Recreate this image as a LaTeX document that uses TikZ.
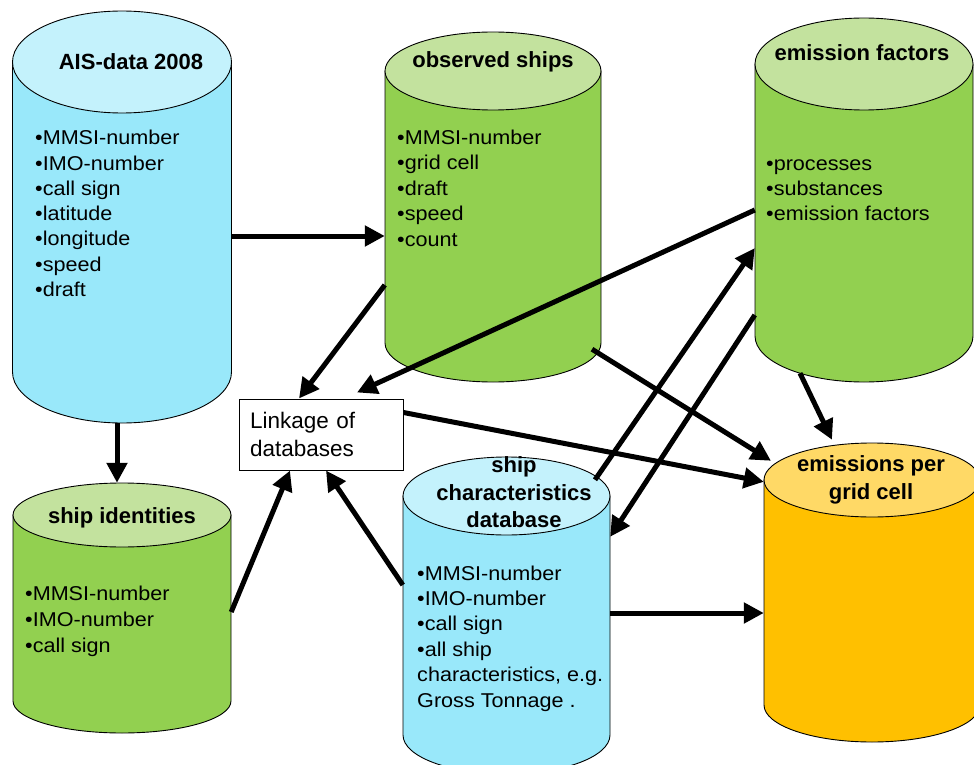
\documentclass[tikz,border=0pt]{standalone}
\usepackage{fontspec}
\setmainfont{Liberation Sans}
\newfontfamily\itemfont[FakeStretch=1.08]{Liberation Sans}
\usetikzlibrary{arrows.meta,calc}
\definecolor{AisBody}{HTML}{99E8FA}
\definecolor{AisLid}{HTML}{C4F2FC}
\definecolor{ShipGreen}{HTML}{92D050}
\definecolor{ShipPaleGreen}{HTML}{C3E29E}
\definecolor{EmisOrange}{HTML}{FFC000}
\definecolor{EmisPaleOrange}{HTML}{FFD966}
\tikzset{
  feed/.style={-{Triangle[length=20pt,width=20pt]}, line width=5pt},
  dbline/.style={draw=black, line width=0.9pt},
  dbtitle/.style={font=\fontsize{22}{27.5}\selectfont\bfseries, align=center, inner sep=0pt},
  dbitem/.style={font=\itemfont\fontsize{20}{25}\selectfont, anchor=base west, inner sep=0pt},
  linkbox/.style={draw, fill=white, line width=1pt, minimum width=164pt, minimum height=71pt,
                  text width=142pt, inner xsep=11pt, align=left, font=\fontsize{22.5}{28}\selectfont},
}
% #1 name, #2 centre x, #3 lid y, #4 bottom y, #5 x radius, #6 y radius, #7 body, #8 lid
\newcommand{\dbcyl}[8]{%
  \draw[dbline, fill=#7] ({#2-#5},#3) -- ({#2-#5},#4)
    arc[start angle=180, end angle=0, x radius=#5, y radius=#6] -- ({#2+#5},#3) -- cycle;
  \draw[dbline, fill=#8] (#2,#3) ellipse [x radius=#5, y radius=#6];
  \node[inner sep=0pt, minimum width={2*#5pt}, minimum height={(#4-#3)*1pt}] (#1) at (#2,{(#3+#4)/2}) {};
}

\begin{document}
\begin{tikzpicture}[x=1pt,y=-1pt]
  \useasboundingbox (0,0) rectangle (974,765);
  % databases
  \dbcyl{ais}{122}{62}{372}{109.5}{51}{AisBody}{AisLid}
  \dbcyl{obs}{493}{71}{343}{108}{39}{ShipGreen}{ShipPaleGreen}
  \dbcyl{ef}{864}{64}{336}{109}{46}{ShipGreen}{ShipPaleGreen}
  \dbcyl{ids}{122}{515}{701}{109}{32}{ShipGreen}{ShipPaleGreen}
  \dbcyl{chr}{506.5}{496}{735}{103.5}{39}{AisBody}{AisLid}
  \dbcyl{em}{872}{480}{705}{108}{37}{EmisOrange}{EmisPaleOrange}

  \node[dbtitle, anchor=base] (ais-title) at (131,70) {AIS-data 2008};
  \node[dbtitle, anchor=base] (obs-title) at (493,68) {observed ships};
  \node[dbtitle, anchor=base] (ef-title) at (862,61) {emission factors};
  \node[dbtitle, anchor=base] (ids-title) at (122,523) {ship identities};
  \node[dbtitle] (chr-title) at (514,492.5) {ship\\characteristics\\database};
  \node[dbtitle] (em-title) at (871,480) {emissions per\\grid cell};

  \foreach \txt [count=\i] in {•MMSI-number,•IMO-number,•call sign,•latitude,•longitude,•speed,•draft}
    \node[dbitem] (ais-\i) at (35,{145+25.2*(\i-1)}) {\txt};
  \foreach \txt [count=\i] in {•MMSI-number,•grid cell,•draft,•speed,•count}
    \node[dbitem] (obs-\i) at (397,{144+25.5*(\i-1)}) {\txt};
  \foreach \txt [count=\i] in {•processes,•substances,•emission factors}
    \node[dbitem] (ef-\i) at (766,{170+25*(\i-1)}) {\txt};
  \foreach \txt [count=\i] in {•MMSI-number,•IMO-number,•call sign}
    \node[dbitem] (ids-\i) at (25,{600+26*(\i-1)}) {\txt};
  \foreach \txt [count=\i] in {•MMSI-number,•IMO-number,•call sign,•all ship,{characteristics, e.g.},Gross Tonnage .}
    \node[dbitem] (chr-\i) at (417,{580+25.4*(\i-1)}) {\txt};

  \node[linkbox] (linkage) at (321,434.5) {Linkage of\\databases};

  % connectors
  \draw[feed] ($(ais.east)+(0,19)$) -- ($(obs.west)+(0,29)$);
  \draw[feed] ($(ais.south)+(-5,51)$) -- ($(ids.north)+(-5,-32)$);
  \draw[feed] ($(obs.west)+(0,78)$) -- ($(linkage.north)+(-22,0)$);
  \draw[feed] ($(ef.west)+(0,10)$) -- ($(linkage.north)+(36,-6)$);
  \draw[feed] ($(obs.south)+(99,6)$) -- ($(em.north)+(-101,-19)$);
  \draw[feed] ($(linkage.north east)+(0,14)$) -- ($(em.north west)+(0,2)$);
  \draw[feed] ($(ef.south)+(-64,37)$) -- ($(em.north)+(-40,-40)$);
  \draw[feed] ($(chr.north)+(88.5,-16)$) -- ($(ef.west)+(0,48)$);
  \draw[feed] ($(ef.west)+(0,115)$) -- ($(chr.north east)+(0,41)$);
  \draw[feed] ($(chr.east)+(0,-2.5)$) -- ($(em.west)+(0,20.5)$);
  \draw[feed] ($(ids.east)+(0,4)$) -- ($(linkage.south)+(-31,0)$);
  \draw[feed] ($(chr.west)+(0,-30.5)$) -- ($(linkage.south)+(5,0)$);
\end{tikzpicture}
\end{document}
